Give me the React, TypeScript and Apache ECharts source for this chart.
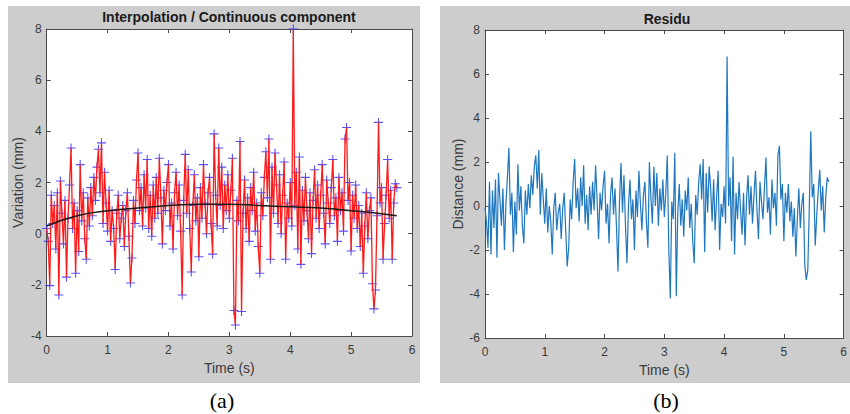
import { useEffect, useRef } from "react";
import * as echarts from "echarts";

const TIME_STEP = 0.025;

const MEASURED = [
  0.2, -0.3, -2.03, 1.5, 0.4, 1.1, -0.6, 1.6, -2.4, 2.06,
  0.8, -0.4, 1.3, -1.7, 0.6, 1.9, 3.35, 0.2, 1.2, -1.55,
  0.9, -0.7, 2.7, 0.5, 1.6, -0.2, -1.0, 1.4, 0.3, 1.8,
  0.7, 2.2, 1.3, 2.6, 3.3, 1.6, 3.55, 0.4, 2.4, 1.2,
  0.1, 1.7, -0.3, 0.9, 0.2, -1.4, 0.8, 1.5, -0.2, 0.6,
  1.1, -0.5, 0.9, 1.6, -0.1, -1.93, -0.95, 1.3, 0.4, 2.1,
  3.15, 0.9, 1.8, 0.3, 2.3, 1.0, 2.9, 0.2, 1.5, -0.1,
  1.9, 0.6, 2.2, 0.8, 2.95, 1.4, -0.4, 1.7, 0.9, 2.0,
  2.7, 0.3, 1.2, -0.6, 1.6, 2.4, 0.7, 1.9, 0.1, -2.4,
  1.3, 3.1, 0.8, 2.5, 0.2, -1.5, 1.1, 2.3, 0.5, 1.4,
  -0.9, 1.8, 0.6, 2.7, 1.2, 0.0, 1.6, 2.2, 0.4, -0.8,
  3.9, 1.5, 0.3, 3.35, 1.1, 2.6, 0.2, 1.9, 0.9, 2.3,
  0.6, 1.7, 2.95, -3.0, -3.57, 1.3, 0.5, 3.6, -3.04, 0.8,
  2.1, 0.2, 1.4, -0.3, 1.8, 0.9, 2.4, 0.1, 1.2, -0.5,
  -1.55, 1.6, 0.7, 2.2, 3.2, 1.4, 3.7, -1.0, 2.6, 0.8,
  3.15, 1.9, 0.4, 2.3, 0.0, 1.5, 2.8, -1.0, 1.2, 0.6,
  2.0, 0.3, 8.0, 1.1, 2.4, -0.6, 3.0, -1.2, 1.7, 0.5,
  2.2, 0.9, -0.2, 1.6, -0.78, 1.3, 2.5, 0.6, 1.9, 0.2,
  1.5, 2.7, 0.8, -0.4, 2.1, 1.2, 0.4, 1.8, 2.9, 0.7,
  1.4, -0.3, 2.2, 0.9, 1.6, 0.1, 3.7, 4.15, 1.3, 2.0,
  -0.68, 1.5, 0.6, 1.9, 0.2, 1.1, -0.5, 0.8, -1.55, 0.3,
  1.6, -0.2, 0.9, 1.4, -1.96, -2.94, -2.2, 0.7, 4.35, 1.2,
  1.8, -1.0, 0.4, 1.5, 2.9, 0.6, 1.7, -1.0, 1.2, 1.95,
  1.8,
];

const RESIDUAL = [
  -0.1, -0.7, -1.9, 1.1, -2.2, 0.7, -1.0, 1.2, -2.35, 1.5,
  0.3, -0.9, 0.8, -2.0, 0.1, 1.3, 2.65, -0.4, 0.6, -2.1,
  0.2, -1.3, 1.9, -0.2, 0.9, -0.9, -1.7, 0.7, -0.4, 1.0,
  -0.1, 1.4, 0.5, 1.8, 2.3, 0.8, 2.55, -0.4, 1.5, 0.3,
  -0.8, 0.8, -1.2, 0.0, -0.7, -2.2, -0.1, 0.6, -1.1, -0.3,
  0.1, -1.5, -0.1, 0.6, -1.1, -2.75, -1.9, 0.3, -0.6, 1.1,
  2.13, -0.1, 0.8, -0.7, 1.3, 0.0, 1.85, -0.8, 0.5, -1.1,
  0.9, -0.4, 1.1, -0.2, 1.85, 0.3, -1.5, 0.6, -0.2, 0.9,
  1.6, -0.8, 0.1, -1.7, 0.5, 1.3, -0.4, 0.8, -1.0, -2.98,
  0.2, 1.95, -0.3, 1.4, -0.9, -2.6, 0.0, 1.2, -0.6, 0.3,
  -2.0, 0.7, -0.5, 1.6, 0.1, -1.1, 0.5, 1.1, -0.7, -1.9,
  2.0, 0.4, -0.8, 1.8, 0.0, 1.5, -0.9, 0.8, -0.2, 1.2,
  -0.5, 0.6, 2.3, -2.0, -4.2, 0.2, -0.6, 2.42, -4.1, -0.3,
  1.0, -0.9, 0.3, -1.4, 0.7, -0.2, 1.3, -1.0, 0.1, -1.6,
  -2.6, 0.5, -0.4, 1.1, 1.9, 0.3, 2.14, -2.1, 1.5, -0.3,
  1.8, 0.8, -0.7, 1.2, -1.1, 0.4, 1.6, -2.0, 0.1, -0.5,
  0.9, -0.8, 6.8, 0.0, 1.3, -1.6, 2.24, -2.2, 0.6, -0.6,
  1.1, -0.2, -1.3, 0.6, -1.8, 0.3, 1.4, -0.4, 0.9, -0.8,
  0.5, 1.6, -0.2, -1.5, 1.1, 0.2, -0.6, 0.8, 2.2, -0.3,
  0.4, -1.3, 1.2, -0.1, 0.6, -0.9, 2.3, 2.74, 0.3, 1.0,
  -1.6, 0.6, -0.3, 1.0, -0.7, 0.2, -1.4, -0.1, -2.3, -0.6,
  0.8, -1.0, 0.1, 0.6, -2.7, -3.36, -2.9, -0.1, 3.4, 0.4,
  1.0, -1.8, -0.4, 0.7, 1.65, -0.2, 0.9, -1.2, 0.4, 1.3,
  1.1,
];

const TREND_TIME = [0, 0.5, 1, 1.5, 2, 2.5, 3, 3.5, 4, 4.5, 5, 5.5, 5.75];
const TREND_VALUE = [0.3, 0.7, 0.9, 1.0, 1.1, 1.15, 1.15, 1.1, 1.05, 1.0, 0.9, 0.78, 0.7];

const LEFT_TITLE = "Interpolation / Continuous component";
const RIGHT_TITLE = "Residu";
const LEFT_YNAME = "Variation (mm)";
const RIGHT_YNAME = "Distance (mm)";
const XNAME = "Time (s)";

const AX = "#4a4a4a";
const LBL = "#3a3a3a";
const FONT = "'Liberation Sans', Arial, Helvetica, sans-serif";
const PLUS = "path://M4.4,0H5.6V4.4H10V5.6H5.6V10H4.4V5.6H0V4.4H4.4Z";

function axisBase(min: number, max: number, interval: number) {
  return {
    type: "value" as const,
    min,
    max,
    interval,
    splitLine: { show: false },
    axisLine: { show: true, onZero: false, lineStyle: { color: AX, width: 1 } },
    axisTick: { show: true, inside: true, length: 4, lineStyle: { color: AX } },
    axisLabel: { show: true, color: LBL, fontSize: 12, fontFamily: FONT },
  };
}

export default function App() {
  const ref = useRef<HTMLDivElement>(null);
  useEffect(() => {
    const chart = echarts.init(ref.current!, null, { renderer: "svg" });
    const measured = MEASURED.map((v, i) => [i * TIME_STEP, v]);
    const residual = RESIDUAL.map((v, i) => [i * TIME_STEP, v]);
    const trend = TREND_TIME.map((t, i) => [t, TREND_VALUE[i]]);

    const nameStyle = { color: LBL, fontSize: 14, fontFamily: FONT };

    const option = {
      animation: false,
      backgroundColor: "#ffffff",
      grid: [
        { left: 46.7, top: 29, width: 365.3, height: 307, show: true, backgroundColor: "#ffffff", borderWidth: 0, containLabel: false },
        { left: 485, top: 30, width: 364.5, height: 308, show: true, backgroundColor: "#ffffff", borderWidth: 0, containLabel: false },
      ],
      graphic: [
        { type: "rect", z: -10, shape: { x: 8, y: 6, width: 412, height: 377 }, style: { fill: "#cdcdcd" } },
        { type: "rect", z: -10, shape: { x: 440, y: 6, width: 410, height: 377 }, style: { fill: "#cdcdcd" } },
        { type: "text", x: 229, y: 17, style: { text: LEFT_TITLE, align: "center", verticalAlign: "middle", fontSize: 14, fontWeight: "bold", fontFamily: FONT, fill: "#1a1a1a" } },
        { type: "text", x: 667, y: 19, style: { text: RIGHT_TITLE, align: "center", verticalAlign: "middle", fontSize: 14, fontWeight: "bold", fontFamily: FONT, fill: "#1a1a1a" } },
        { type: "text", x: 222, y: 400, style: { text: "(a)", align: "center", verticalAlign: "middle", fontSize: 22, fontFamily: "'Liberation Serif', 'Times New Roman', serif", fill: "#000" } },
        { type: "text", x: 666, y: 400, style: { text: "(b)", align: "center", verticalAlign: "middle", fontSize: 22, fontFamily: "'Liberation Serif', 'Times New Roman', serif", fill: "#000" } },
      ],
      xAxis: [
        { ...axisBase(0, 6, 1), gridIndex: 0, position: "bottom", name: XNAME, nameLocation: "middle", nameGap: 25, nameTextStyle: nameStyle, axisLabel: { ...axisBase(0, 6, 1).axisLabel, margin: 8 } },
        { ...axisBase(0, 6, 1), gridIndex: 0, position: "top", axisLabel: { show: false } },
        { ...axisBase(0, 6, 1), gridIndex: 1, position: "bottom", name: XNAME, nameLocation: "middle", nameGap: 25, nameTextStyle: nameStyle, axisLabel: { ...axisBase(0, 6, 1).axisLabel, margin: 8 } },
        { ...axisBase(0, 6, 1), gridIndex: 1, position: "top", axisLabel: { show: false } },
      ],
      yAxis: [
        { ...axisBase(-4, 8, 2), gridIndex: 0, position: "left", name: LEFT_YNAME, nameLocation: "middle", nameGap: 22, nameRotate: 90, nameTextStyle: nameStyle, axisLabel: { ...axisBase(-4, 8, 2).axisLabel, margin: 5 } },
        { ...axisBase(-4, 8, 2), gridIndex: 0, position: "right", axisLabel: { show: false } },
        { ...axisBase(-6, 8, 2), gridIndex: 1, position: "left", name: RIGHT_YNAME, nameLocation: "middle", nameGap: 20, nameRotate: 90, nameTextStyle: nameStyle, axisLabel: { ...axisBase(-6, 8, 2).axisLabel, margin: 5 } },
        { ...axisBase(-6, 8, 2), gridIndex: 1, position: "right", axisLabel: { show: false } },
      ],
      series: [
        {
          type: "scatter",
          xAxisIndex: 0,
          yAxisIndex: 0,
          data: measured,
          symbol: PLUS,
          symbolSize: 9,
          itemStyle: { color: "#2828ff" },
          z: 2,
          silent: true,
        },
        {
          type: "line",
          xAxisIndex: 0,
          yAxisIndex: 0,
          data: measured,
          showSymbol: false,
          lineStyle: { color: "#ff1a1a", width: 1.3 },
          z: 3,
          silent: true,
        },
        {
          type: "line",
          xAxisIndex: 0,
          yAxisIndex: 0,
          data: trend,
          smooth: true,
          showSymbol: false,
          lineStyle: { color: "#1a1a1a", width: 1.5 },
          z: 4,
          silent: true,
        },
        {
          type: "line",
          xAxisIndex: 2,
          yAxisIndex: 2,
          data: residual,
          showSymbol: false,
          lineStyle: { color: "#1f77c0", width: 1.2 },
          z: 3,
          silent: true,
        },
      ],
    };
    chart.setOption(option as any);
    return () => chart.dispose();
  }, []);
  return (
    <div
      ref={ref}
      style={{ position: "fixed", left: 0, top: 0, width: 850, height: 414, background: "#fff" }}
    />
  );
}
